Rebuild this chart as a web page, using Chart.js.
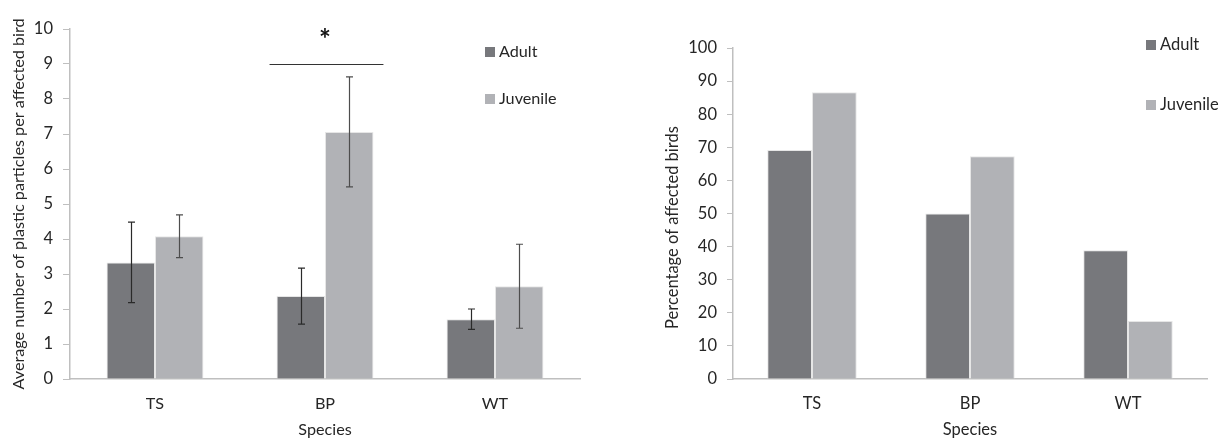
<!DOCTYPE html>
<html>
<head>
<meta charset="utf-8">
<script src="https://cdn.jsdelivr.net/npm/chart.js@4.4.1/dist/chart.umd.min.js"></script>
<style>
  html, body { margin: 0; padding: 0; background: #fff; }
  .wrap { position: absolute; top: 0; width: 610px; height: 439px; }
  #w1 { left: 0; }
  #w2 { left: 610px; }
</style>
</head>
<body>
<div class="wrap" id="w1"><canvas id="c1" width="610" height="439"></canvas></div>
<div class="wrap" id="w2"><canvas id="c2" width="610" height="439"></canvas></div>
<script>
// ---- Data ----
const categories = ["TS", "BP", "WT"];
const seriesNames = ["Adult", "Juvenile"];

// Left panel: average number of plastic particles per affected bird
const particlesAdult = [3.33, 2.37, 1.71];
const particlesJuvenile = [4.08, 7.06, 2.65];
const particlesAdultErr = [1.15, 0.80, 0.29];
const particlesJuvenileErr = [0.61, 1.57, 1.20];
const leftTicks = [0, 1, 2, 3, 4, 5, 6, 7, 8, 9, 10];
const significance = { category: "BP", value: 9, label: "*" };

// Right panel: percentage of affected birds
const percentAdult = [69.2, 50.0, 38.9];
const percentJuvenile = [86.6, 67.3, 17.5];
const rightTicks = [0, 10, 20, 30, 40, 50, 60, 70, 80, 90, 100];

const yTitleLeft = "Average number of plastic particles per affected bird";
const yTitleRight = "Percentage of affected birds";
const xTitle = "Species";

// ---- Styles ----
const FONT = "Lato";
const COL_ADULT = "#77787c";
const COL_JUV = "#b1b2b6";
const AXIS_COL = "#bfbfbf";
const TEXT_COL = "#262626";

function makeErrorBarPlugin(errs) {
  return {
    id: "errbars",
    afterDatasetsDraw(chart) {
      const ctx = chart.ctx;
      const y = chart.scales.y;
      ctx.save();
      chart.data.datasets.forEach((ds, di) => {
        const meta = chart.getDatasetMeta(di);
        meta.data.forEach((bar, i) => {
          const v = ds.data[i], e = errs[di][i];
          const yt = y.getPixelForValue(v + e), yb = y.getPixelForValue(v - e);
          const x = Math.round(bar.x) + 0.5;
          ctx.strokeStyle = di === 0 ? "#2a2a2a" : "#4d4d4d";
          ctx.lineWidth = 1.2;
          ctx.beginPath();
          ctx.moveTo(x, yt); ctx.lineTo(x, yb);
          ctx.moveTo(x - 3.5, yt); ctx.lineTo(x + 3.5, yt);
          ctx.moveTo(x - 3.5, yb); ctx.lineTo(x + 3.5, yb);
          ctx.stroke();
        });
      });
      ctx.restore();
    }
  };
}

const significancePlugin = {
  id: "signif",
  afterDatasetsDraw(chart) {
    const ctx = chart.ctx;
    const idx = categories.indexOf(significance.category);
    const b0 = chart.getDatasetMeta(0).data[idx];
    const b1 = chart.getDatasetMeta(1).data[idx];
    const xl = b0.x - b0.width / 2 - 7;
    const xr = b1.x + b1.width / 2 + 10;
    const yy = Math.round(chart.scales.y.getPixelForValue(significance.value)) + 0.5;
    ctx.save();
    ctx.strokeStyle = "#333";
    ctx.lineWidth = 1;
    ctx.beginPath(); ctx.moveTo(xl, yy); ctx.lineTo(xr, yy); ctx.stroke();
    ctx.fillStyle = "#111";
    ctx.font = "bold 28px " + FONT;
    ctx.textAlign = "center"; ctx.textBaseline = "middle";
    ctx.fillText(significance.label, (b0.x + b1.x) / 2, yy - 25);
    ctx.restore();
  }
};

function makeDecorPlugin(cfg) {
  return {
    id: "decor",
    afterDraw(chart) {
      const ctx = chart.ctx;
      const a = chart.chartArea;
      ctx.save();
      ctx.fillStyle = TEXT_COL;
      ctx.font = cfg.fontSize + "px " + FONT;
      // y title
      ctx.save();
      ctx.translate(a.left + cfg.yTitleDx, (a.top + a.bottom) / 2 + cfg.yTitleDy);
      ctx.rotate(-Math.PI / 2);
      ctx.textAlign = "center"; ctx.textBaseline = "middle";
      ctx.fillText(cfg.yTitle, 0, 0);
      ctx.restore();
      // x title
      ctx.textAlign = "center"; ctx.textBaseline = "middle";
      ctx.fillText(xTitle, (a.left + a.right) / 2, cfg.xTitleY);
      // legend
      chart.data.datasets.forEach((ds, i) => {
        const ly = cfg.legendY[i];
        ctx.fillStyle = ds.backgroundColor;
        ctx.fillRect(a.left + cfg.legendDx, ly - 5, 10, 10);
        ctx.fillStyle = TEXT_COL;
        ctx.textAlign = "left"; ctx.textBaseline = "middle";
        ctx.fillText(ds.label, a.left + cfg.legendDx + 14, ly);
      });
      ctx.restore();
    }
  };
}

function makeChart(canvasId, a, b, ticks, max, stepSize, cfg, plugins) {
  return new Chart(document.getElementById(canvasId), {
    type: "bar",
    data: {
      labels: categories,
      datasets: [
        { label: seriesNames[0], data: a, backgroundColor: COL_ADULT, borderColor: "#e6e6e6", borderWidth: 1 },
        { label: seriesNames[1], data: b, backgroundColor: COL_JUV, borderColor: "#e6e6e6", borderWidth: 1 }
      ]
    },
    options: {
      responsive: false,
      animation: false,
      devicePixelRatio: 1,
      layout: { padding: { left: 0, right: cfg.padRight, top: cfg.padTop, bottom: 0 } },
      datasets: { bar: { categoryPercentage: cfg.catPct, barPercentage: 1.0 } },
      plugins: { legend: { display: false }, tooltip: { enabled: false } },
      scales: {
        x: {
          grid: { display: false, drawTicks: false },
          border: { color: AXIS_COL, width: 1.5 },
          ticks: { color: TEXT_COL, font: { family: FONT, size: cfg.fontSize }, padding: cfg.xTickPad },
          afterFit(s) { s.height = 60; }
        },
        y: {
          min: 0, max: max,
          afterBuildTicks(s) { s.ticks = ticks.map(v => ({ value: v })); },
          grid: { drawOnChartArea: false, drawTicks: true, tickLength: cfg.tickLen, color: AXIS_COL },
          border: { color: AXIS_COL, width: 1.5 },
          ticks: { color: TEXT_COL, font: { family: FONT, size: cfg.tickFont }, padding: cfg.yTickPad },
          afterFit(s) { s.width = cfg.yWidth; }
        }
      }
    },
    plugins: [makeDecorPlugin(cfg)].concat(plugins)
  });
}

makeChart("c1", particlesAdult, particlesJuvenile, leftTicks, 10, 1, {
  padRight: 30, padTop: 29, catPct: 0.57, yWidth: 70, tickLen: 7, yTickPad: 10, xTickPad: 15,
  fontSize: 16.2, tickFont: 16.5,
  yTitle: yTitleLeft, yTitleDx: -51, yTitleDy: 0, xTitleY: 430,
  legendDx: 415, legendY: [52, 99]
}, [makeErrorBarPlugin([particlesAdultErr, particlesJuvenileErr]), significancePlugin]);

makeChart("c2", percentAdult, percentJuvenile, rightTicks, 100, 10, {
  padRight: 13, padTop: 48, catPct: 0.566, yWidth: 123, tickLen: 6, yTickPad: 10, xTickPad: 15,
  fontSize: 16.5, tickFont: 16.5,
  yTitle: yTitleRight, yTitleDx: -60, yTitleDy: 14, xTitleY: 430,
  legendDx: 413, legendY: [45, 105]
}, []);
</script>
</body>
</html>
